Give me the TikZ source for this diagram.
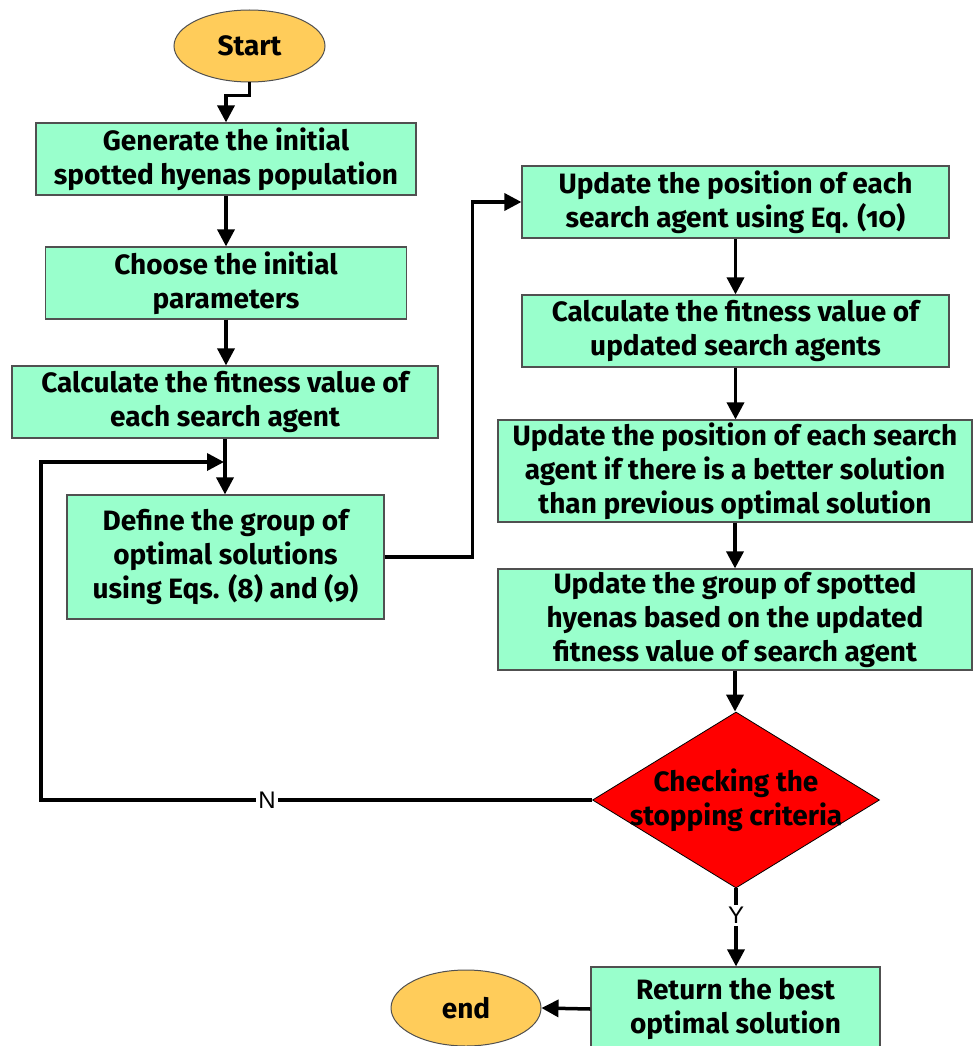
\documentclass[tikz,border=0pt]{standalone}
\usepackage{fontspec}
\setmainfont{Fira Sans}[Numbers=OldStyle]
\newfontfamily\lblfont{Liberation Sans}
\usetikzlibrary{shapes.geometric,arrows.meta}
\definecolor{boxfill}{RGB}{153,255,204}
\definecolor{ovalfill}{RGB}{255,204,90}
\definecolor{boxline}{RGB}{80,80,80}
\begin{document}
\begin{tikzpicture}[x=1pt,y=-1pt,
  txt/.style={font=\fontsize{28}{34}\selectfont\bfseries},
  proc/.style={draw=boxline,line width=1.2pt,fill=boxfill,rectangle,align=center,
    inner sep=0pt,txt},
  oval/.style={draw=boxline,line width=1pt,fill=ovalfill,ellipse,inner sep=0pt,txt},
  decide/.style={draw=black,line width=0.8pt,fill=red,diamond,inner sep=0pt,
    shape aspect=1.63},
  arr/.style={line width=3.5pt,-{Triangle[width=17pt,length=17pt]}},
  lbl/.style={fill=white,inner sep=2pt,font=\lblfont\fontsize{24}{26}\selectfont}
]
\useasboundingbox (0,0) rectangle (973,1046);
\node[oval,minimum width=151pt,minimum height=72pt] (start) at (249.5,46) {Start};
\node[proc,minimum width=380pt,minimum height=72pt] (b1) at (226,159)
  {Generate the initial\\spotted hyenas population};
\node[proc,minimum width=361pt,minimum height=72pt] (b2) at (226,283)
  {Choose the initial\\parameters};
\node[proc,minimum width=426pt,minimum height=72pt] (b3) at (225,402)
  {Calculate the fitness value of\\each search agent};
\node[proc,minimum width=317pt,minimum height=124pt] (b4) at (225.5,557)
  {Define the group of\\optimal solutions\\using Eqs. (8) and (9)};
\node[proc,minimum width=427pt,minimum height=72pt] (b5) at (735.5,202)
  {Update the position of each\\search agent using Eq. (10)};
\node[proc,minimum width=427pt,minimum height=72pt] (b6) at (735.5,331)
  {Calculate the fitness value of\\updated search agents};
\node[proc,minimum width=474pt,minimum height=102pt] (b7) at (735,471)
  {Update the position of each search\\agent if there is a better solution\\than previous optimal solution};
\node[proc,minimum width=474pt,minimum height=101pt] (b8) at (735,619.5)
  {Update the group of spotted\\hyenas based on the updated\\fitness value of search agent};
\node[decide,minimum width=287pt,minimum height=176pt,
  label={[txt,align=center]center:Checking the\\stopping criteria}] (dia) at (736,800) {};
\node[proc,minimum width=289pt,minimum height=84pt] (b9) at (735.5,1009)
  {Return the best\\optimal solution};
\node[oval,minimum width=150pt,minimum height=76pt] (end) at (466,1008) {end};
\coordinate (lp) at (41,462);
\coordinate (jn) at (224,462);
\draw[arr] (start.south) -- ++(0,13) -| (b1.north);
\draw[arr] (b1.south) -- (b1.south |- b2.north);
\draw[arr] (b2.south) -- (b2.south |- b3.north);
\draw[arr] (b3.south) -- (b3.south |- b4.north);
\draw[arr] (b4.east) -- ++(88,0) |- (b5.west);
\draw[arr] (b5.south) -- (b6.north);
\draw[arr] (b6.south) -- (b6.south |- b7.north);
\draw[arr] (b7.south) -- (b7.south |- b8.north);
\draw[arr] (b8.south) -- (b8.south |- dia.north);
\draw[arr] (dia.south) -- node[lbl,pos=0.35]{Y} (dia.south |- b9.north);
\draw[arr] (b9.west) -- (end.east);
\draw[arr] (dia.west) -- node[lbl,pos=0.59]{N} (dia.west -| lp) -- (lp) -- (jn);
\end{tikzpicture}
\end{document}
